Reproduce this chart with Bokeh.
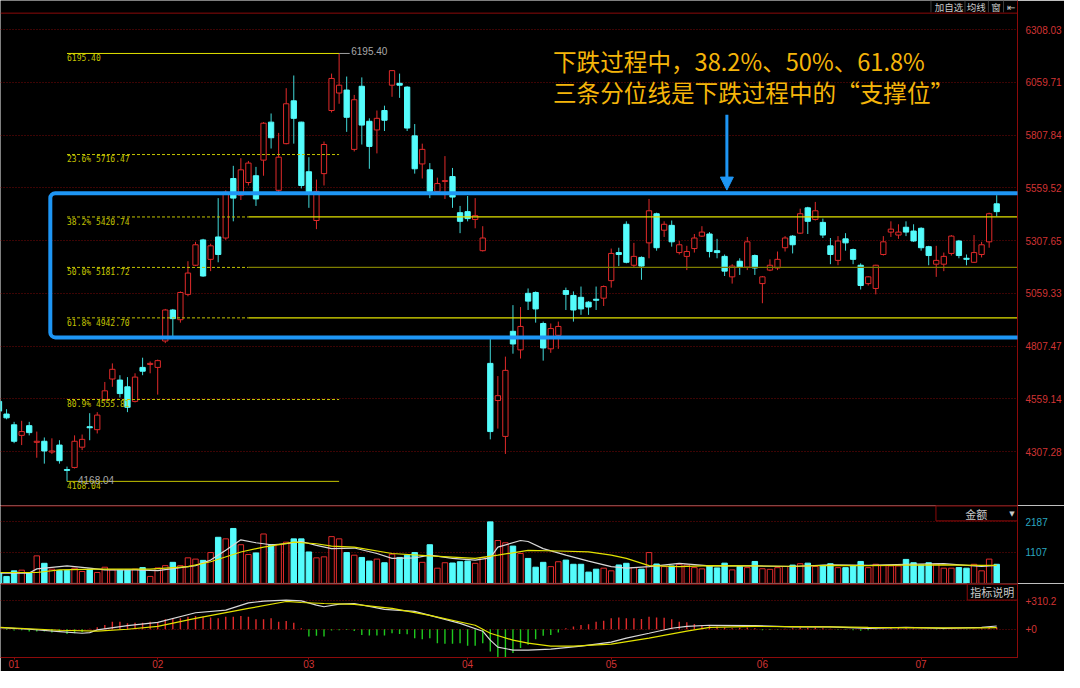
from bokeh.plotting import figure
from bokeh.layouts import column
from bokeh.models import (Range1d, FixedTicker, NumeralTickFormatter, PrintfTickFormatter,
                          Span, Label, Arrow, NormalHead)
from bokeh.core.properties import value
from bokeh.embed import file_html
from bokeh.resources import INLINE

# ---------------- data (daily candles, index 0..132) ----------------
opens = [4547,4487,4436,4386,4432,4353,4358,4307,4340,4224, 4234,4330,4427,4413,4556,4653,4648,4616,4547,4708,
         4722,4708,4833,4980,4934,5054,5192,5312,5220,5326, 5321,5603,5524,5584,5616,5690,5870,5547,5768,5971,
         5870,5635,5404,5626,5925,6008,6022,5741,6040,5874, 5833,5925,6045,6054,6036,5805,5672,5644,5542,5589,
         5612,5441,5446,5409,5261,4727,4551,4381,4879,4791, 5059,5063,4916,4796,4860,5072,5049,5040,5017,5031,
         5036,5119,5252,5386,5192,5229,5298,5436,5358,5381, 5252,5234,5271,5330,5340,5261,5234,5137,5211,5183,
         5238,5105,5169,5179,5275,5330,5344,5464,5409,5395, 5284,5215,5317,5266,5192,5105,5082,5243,5349,5335,
         5372,5354,5367,5280,5197,5197,5248,5307,5225,5206, 5243,5303,5483]
highs = [4556,4510,4450,4455,4450,4404,4376,4372,4363,4238, 4386,4390,4491,4496,4639,4727,4671,4662,4680,4754,
         4736,4745,4985,4985,5068,5211,5303,5317,5294,5510, 5547,5663,5699,5686,5658,5870,5911,5819,6031,6091,
         5872,5704,5598,5778,6100,6195.40,6086,5999,6082,5888, 5925,5948,6116,6100,6040,5861,5768,5676,5607,5709,
         5653,5473,5520,5510,5377,4856,4667,4759,5003,4994, 5082,5068,4925,4916,4925,5086,5068,5091,5022,5091,
         5096,5271,5275,5400,5298,5234,5506,5441,5400,5404, 5307,5284,5340,5377,5349,5317,5243,5197,5225,5326,
         5243,5141,5220,5257,5330,5335,5460,5469,5492,5413, 5321,5330,5344,5271,5201,5141,5194,5330,5400,5386,
         5400,5386,5372,5284,5284,5252,5335,5312,5243,5335, 5303,5441,5524]
lows = [4496,4462,4349,4340,4386,4280,4252,4298,4252,4168.04, 4229,4316,4363,4395,4547,4616,4565,4496,4542,4671,
        4680,4579,4823,4846,4920,5045,5188,5137,5164,5206, 5312,5400,5501,5570,5473,5616,5745,5538,5765,5768,
        5556,5464,5363,5570,5916,5957,5824,5731,5764,5649, 5722,5828,5990,5985,5828,5626,5603,5510,5538,5506,
        5464,5344,5400,5367,5257,4367,4418,4298,4773,4750, 4980,4920,4740,4777,4796,4980,4925,4957,4957,4980,
        4999,5086,5188,5201,5179,5123,5225,5261,5326,5280, 5243,5169,5252,5326,5229,5225,5141,5105,5146,5169,
        5146,5012,5164,5169,5257,5248,5340,5340,5404,5321, 5197,5192,5261,5197,5077,5096,5054,5238,5326,5317,
        5330,5303,5261,5192,5137,5164,5238,5225,5192,5204, 5229,5275,5423]
closes = [4501,4469,4358,4404,4399,4358,4312,4312,4266,4220, 4358,4367,4422,4482,4597,4699,4584,4519,4662,4690,
          4727,4740,4980,4939,5063,5155,5289,5141,5284,5243, 5538,5510,5644,5676,5506,5865,5796,5704,5957,5888,
          5570,5538,5542,5764,6077,6045,5893,5976,5856,5755, 5888,5879,6114,6045,5842,5649,5741,5542,5579,5593,
          5515,5400,5413,5427,5321,4404,4574,4694,4819,4902, 5022,4985,4800,4892,4902,5054,4980,4985,4994,5026,
          5091,5248,5243,5206,5234,5188,5450,5275,5386,5303, 5289,5257,5321,5349,5257,5252,5164,5188,5183,5303,
          5179,5137,5192,5220,5321,5289,5436,5400,5450,5335, 5243,5307,5298,5220,5096,5137,5192,5303,5363,5349,
          5349,5307,5275,5238,5215,5234,5330,5238,5220,5252, 5289,5436,5446]
volumes = [387,247,446,470,366,979,714,505,456,456, 540,422,505,387,575,481,470,470,505,561,
           247,550,631,749,631,909,864,819,1097,1641, 1585,1955,1376,1028,1084,1759,1376,1376,1467,1585,
           1585,1118,909,944,1665,1585,1097,1003,923,794, 864,735,1038,923,1003,1097,749,1376,540,735,
           725,770,794,714,923,2190,1526,1446,1327,1063, 888,575,749,596,770,829,679,679,401,505,
           540,446,655,714,561,505,1097,690,596,620, 679,655,561,516,620,550,720,480,600,560,
           780,520,500,560,600,650,700,720,600,640, 700,560,560,620,780,560,680,631,620,620,
           853,735,655,735,690,540,540,561,540,679, 446,864,679]
macd_hist = [-5,-8,-14,-10,-25,-25,-25,-35,-30,-50, -43,-32,5,21,46,82,82,64,71,71,
             82,75,107,118,118,136,143,136,128,118, 136,136,143,136,107,107,118,82,89,71,
             11,-78,-71,-78,-14,-10,-7,-18,-61,-68, -68,-68,-43,-50,-53,-96,-107,-96,-150,-157,
             -157,-150,-178,-178,-150,-239,-310,-303,-257,-203, -168,-107,-71,-61,-36,11,29,46,53,82,
             93,118,128,118,118,111,136,128,125,107, 82,75,57,46,40,30,20,10,15,20,
             10,-10,-8,-5,5,10,20,15,20,10, 5,-5,-5,-10,-15,-10,-5,5,10,15,
             12,8,5,0,-5,-5,3,2,-3,5, 8,15,20]
dif_idx = [0,4,8,11,12,13,17,21,26,30,33,35,38,40,42,43,45,47,51,55,57,61,64,65,66,68,70,73,77,81,83,86,89,91,94,100,105,110,115,120,125,130,132]
dif_val = [18,0,-25,-43,-36,-7,39,75,178,207,285,303,314,307,260,243,271,278,214,193,150,64,-21,-118,-193,-225,-225,-214,-182,-139,-96,-43,11,32,43,40,25,25,10,20,10,20,35]
dea_idx = [0,8,13,17,21,26,33,38,40,43,47,52,57,63,65,68,70,73,76,81,86,91,94,100,105,110,115,120,125,130,132]
dea_val = [21,-11,-21,0,32,118,225,300,289,278,268,225,150,43,-43,-118,-150,-182,-182,-161,-96,-21,21,30,28,25,20,18,15,15,18]
vma5_idx = [0,4,5,8,9,12,14,18,21,24,26,28,30,32,34,36,38,40,42,44,47,50,52,55,57,60,63,65,66,69,70,72,75,78,81,83,86,90,94,100,105,110,115,120,125,130,132]
vma5_val = [366,366,516,596,620,540,481,481,456,561,631,829,1178,1550,1446,1376,1411,1491,1352,1237,1258,1063,888,909,1003,888,829,909,1293,1526,1491,1237,1003,794,596,540,596,714,620,620,600,660,640,680,700,600,640]
vma10_idx = [0,5,8,13,20,25,28,32,35,39,42,44,47,52,57,63,66,70,74,78,81,83,86,90,94,100,105,110,115,120,125,130,132]
vma10_val = [387,387,481,505,505,596,770,1118,1293,1467,1411,1327,1293,1063,979,888,1003,1178,1153,1118,1003,888,631,596,631,620,610,640,630,650,660,640,640]

month_idx = [2, 21, 41, 62, 81, 101, 122]
month_labels = ["01", "02", "03", "04", "05", "06", "07"]
price_ticks = [4307.28, 4559.14, 4807.47, 5059.33, 5307.65, 5559.52, 5807.84, 6059.71, 6308.03]
vol_ticks = [1107, 2187]
macd_ticks = [0, 310.2]

fib_low_idx, fib_high_idx, fib_split_idx = 9, 45, 33
fib_low, fib_high = 4168.04, 6195.40
fib_pct = ["23.6%", "38.2%", "50.0%", "61.8%", "80.9%"]
fib_levels = [5716.47, 5420.74, 5181.72, 4942.70, 4555.81]
note_lines = ["下跌过程中，38.2%、50%、61.8%", "三条分位线是下跌过程中的“支撑位”"]
header_buttons = ["加自选", "均线", "窗", "⇤"]

# ---------------- styling ----------------
BG = "#000000"
RED = "#E02A2A"
CYAN = "#54FCFC"
CYAN_W = "#40D8D8"
GREEN = "#1EC81E"
GRID = "#7A0808"
BORDER = "#8C0A0A"
LBL = "#D23434"
BLUE = "#1E96F5"
YEL = "#E2E200"
YEL_D = "#C4C400"
OLIVE = "#7E7E00"
W = 1064
AXW = 43
XR = Range1d(0.2, 134.75)
N = len(closes)
idx = list(range(N))


def panel(h, yr, ticks, fmt, lab_color, xaxis=False):
    p = figure(width=W, height=h, x_range=XR, y_range=yr, output_backend="svg",
               toolbar_location=None, x_axis_location="below" if xaxis else None,
               y_axis_location="right", min_border_left=0, min_border_right=AXW,
               min_border_top=0, min_border_bottom=14 if xaxis else 0,
               background_fill_color=BG, border_fill_color=BG, outline_line_color=None)
    ax = p.yaxis[0]
    ax.ticker = FixedTicker(ticks=ticks)
    ax.formatter = fmt
    ax.axis_line_color = BORDER
    ax.major_tick_line_color = None
    ax.minor_tick_line_color = None
    ax.major_label_text_color = lab_color
    ax.major_label_text_font = "Liberation Sans"
    ax.major_label_text_font_size = "10px"
    ax.major_label_standoff = 2
    p.xgrid.grid_line_color = None
    p.ygrid.ticker = FixedTicker(ticks=ticks)
    p.ygrid.grid_line_color = GRID
    p.ygrid.grid_line_dash = "1 2"
    return p


# ---------------- main candle panel ----------------
pm = panel(505, Range1d(4053.7, 6446.3), price_ticks, NumeralTickFormatter(format="0.00"), LBL)
pm.add_layout(Span(location=6386.4, dimension="width", line_color=BORDER, line_width=1))

up_i = [i for i in idx if closes[i] >= opens[i]]
dn_i = [i for i in idx if closes[i] < opens[i]]
pm.segment(x0=up_i, x1=up_i, y0=[lows[i] for i in up_i], y1=[highs[i] for i in up_i], line_color=RED, line_width=1)
pm.segment(x0=dn_i, x1=dn_i, y0=[lows[i] for i in dn_i], y1=[highs[i] for i in dn_i], line_color=CYAN_W, line_width=1)
pm.vbar(x=up_i, width=0.7, top=[closes[i] for i in up_i], bottom=[opens[i] for i in up_i],
        fill_color=BG, line_color=RED, line_width=1)
pm.vbar(x=dn_i, width=0.7, top=[opens[i] for i in dn_i], bottom=[closes[i] for i in dn_i],
        fill_color=CYAN, line_color=CYAN, line_width=1)

# Fibonacci retracement lines
pm.segment(x0=[fib_low_idx], x1=[fib_high_idx], y0=[fib_high], y1=[fib_high], line_color=YEL, line_width=1)
pm.segment(x0=[fib_low_idx], x1=[fib_high_idx], y0=[fib_low], y1=[fib_low], line_color=YEL_D, line_width=1)
for k, lv in enumerate(fib_levels):
    if fib_pct[k] in ("23.6%", "80.9%"):
        pm.segment(x0=[fib_low_idx], x1=[fib_high_idx], y0=[lv], y1=[lv], line_color=YEL_D, line_dash="3 2", line_width=1)
    else:
        pm.segment(x0=[fib_low_idx], x1=[fib_split_idx], y0=[lv], y1=[lv], line_color=YEL_D, line_dash="3 2", line_width=1)
        pm.segment(x0=[fib_split_idx], x1=[140], y0=[lv], y1=[lv],
                   line_color=OLIVE if fib_pct[k] == "50.0%" else YEL, line_width=1.3)
fib_texts = ["%.2f" % fib_high] + ["%s  %.2f" % (a, b) for a, b in zip(fib_pct, fib_levels)] + ["%.2f" % fib_low]
fib_ys = [fib_high] + fib_levels + [fib_low]
pm.text(x=[fib_low_idx] * len(fib_texts), y=[v - 4 for v in fib_ys], text=fib_texts,
        text_font=value("DejaVu Sans Mono"), text_font_size="8px", text_color=YEL_D,
        text_baseline="top", text_align="left")
# price markers at the extremes
pm.segment(x0=[fib_high_idx], x1=[fib_high_idx + 1.4], y0=[fib_high], y1=[fib_high], line_color="#A0A0A0")
pm.text(x=[fib_high_idx + 1.6, fib_low_idx + 1.45], y=[fib_high + 10, fib_low + 5], text=["%.2f" % fib_high, "%.2f" % fib_low],
        text_font=value("Liberation Sans"), text_font_size="10px", text_color="#A8A8A8",
        text_baseline="middle", text_align="left")

# annotation: text, arrow and highlight box
pm.text(x=[73.3, 73.3], y=[6158, 6013], text=note_lines, text_font=value("Noto Sans CJK SC"),
        text_font_size="23.6px", text_color="#F5B50A", text_baseline="middle", text_align="left")
pm.add_layout(Arrow(end=NormalHead(size=13, fill_color=BLUE, line_color=BLUE, line_width=1),
                    x_start=96.3, y_start=5905, x_end=96.3, y_end=5548, line_color=BLUE, line_width=3))
# highlight frame (an unclipped label border so it may run over the price axis, as in the original)
pm.add_layout(Label(x=6.79, y=5533, text=" ", text_font_size="1px", anchor="top_left",
                    padding=dict(left=0, right=988, top=0, bottom=143),
                    border_line_color=BLUE, border_line_width=4, border_line_alpha=1,
                    background_fill_color=None, border_radius=5))

# header buttons
pm.text(x=[125.7, 129.3, 131.9, 133.9], y=[6416] * 4, text=header_buttons,
        text_font=value("Noto Sans CJK SC"), text_font_size="9.5px", text_color="#C8C8C8",
        text_baseline="middle", text_align="center")
pm.segment(x0=[123.3, 127.8, 130.9, 132.9], x1=[123.3, 127.8, 130.9, 132.9], y0=[6446] * 4, y1=[6390] * 4,
           line_color="#3C3C3C", line_width=1)

# ---------------- volume panel ----------------
pv = panel(78, Range1d(-5, 2773), vol_ticks, NumeralTickFormatter(format="0"), "#2AA8C0")
pv.add_layout(Span(location=2760, dimension="width", line_color=BORDER, line_width=1.5))
pv.vbar(x=up_i, width=0.72, top=[volumes[i] for i in up_i], bottom=0, fill_color=BG, line_color=RED, line_width=1)
pv.vbar(x=dn_i, width=0.72, top=[volumes[i] for i in dn_i], bottom=0, fill_color=CYAN, line_color=CYAN, line_width=1)
pv.line(vma5_idx, vma5_val, line_color="#D8D8D8", line_width=1.2)
pv.line(vma10_idx, vma10_val, line_color=YEL, line_width=1.2)
pv.quad(left=[123.96], right=[140], top=[2790], bottom=[2225], fill_color=BG, line_color=BORDER)
pv.text(x=[129.3], y=[2484], text=["金额"], text_font=value("Noto Sans CJK SC"), text_font_size="11px",
        text_color="#C8C8C8", text_baseline="middle", text_align="center")
pv.text(x=[134.0], y=[2484], text=["▼"], text_font=value("DejaVu Sans"), text_font_size="7px",
        text_color="#C8C8C8", text_baseline="middle", text_align="center")

# ---------------- MACD panel ----------------
pc = panel(88, Range1d(-305, 494), macd_ticks, PrintfTickFormatter(format="+%g"), LBL, xaxis=True)
pc.add_layout(Span(location=488, dimension="width", line_color=BORDER, line_width=1.5))
pos_i = [i for i in idx if macd_hist[i] >= 0]
neg_i = [i for i in idx if macd_hist[i] < 0]
pc.segment(x0=pos_i, x1=pos_i, y0=[0] * len(pos_i), y1=[macd_hist[i] for i in pos_i], line_color=RED, line_width=1.4)
pc.segment(x0=neg_i, x1=neg_i, y0=[0] * len(neg_i), y1=[macd_hist[i] for i in neg_i], line_color=GREEN, line_width=1.4)
pc.line(dif_idx, dif_val, line_color="#D8D8D8", line_width=1.2)
pc.line(dea_idx, dea_val, line_color=YEL, line_width=1.2)
pc.quad(left=[128.1], right=[140], top=[510], bottom=[315], fill_color=BG, line_color=BORDER)
pc.text(x=[131.4], y=[402], text=["指标说明"], text_font=value("Noto Sans CJK SC"), text_font_size="11px",
        text_color="#C8C8C8", text_baseline="middle", text_align="center")
xa = pc.xaxis[0]
xa.ticker = FixedTicker(ticks=month_idx)
xa.major_label_overrides = {m: lab for m, lab in zip(month_idx, month_labels)}
xa.major_label_text_align = "left"
xa.major_label_text_color = LBL
xa.major_label_text_font = "Liberation Sans"
xa.major_label_text_font_size = "10px"
xa.major_label_standoff = 0
xa.axis_line_color = BORDER
xa.major_tick_line_color = BORDER
xa.major_tick_in = 0
xa.major_tick_out = 2
xa.minor_tick_line_color = None

layout = column(pm, pv, pc)
open("out.html", "w").write(file_html(layout, INLINE))
